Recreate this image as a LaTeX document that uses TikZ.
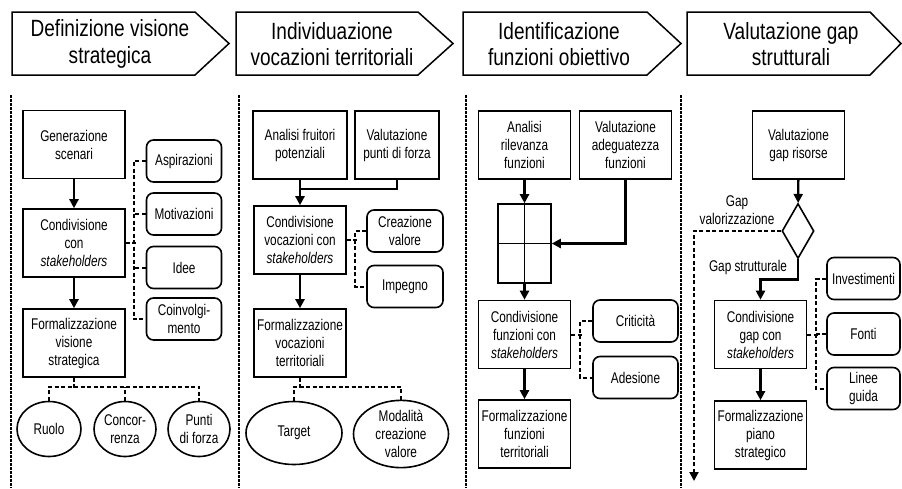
\documentclass[tikz,border=0pt]{standalone}
\usepackage{fontspec}
\setmainfont[FakeStretch=0.81]{Liberation Sans}
\newfontfamily\boxfam[FakeStretch=0.76]{Liberation Sans}
\usetikzlibrary{shapes.geometric,arrows.meta}
\newcommand{\boxfont}{\boxfam\fontsize{15.5}{18}\selectfont}
\newcommand{\phasefont}{\fontsize{23.5}{26.5}\selectfont}

\begin{document}
\begin{tikzpicture}[x=1pt, y=-1pt,
    box/.style={draw, line width=1.6pt, minimum width=92pt, minimum height=68pt, inner sep=1pt, align=center, font=\boxfont},
    rbox/.style={draw, rounded corners=7pt, line width=1.6pt, minimum width=75pt, minimum height=42pt, inner sep=1pt, align=center, font=\boxfont},
    oval/.style={draw, ellipse, line width=1.6pt, inner sep=0pt, align=center, font=\boxfont},
    lbl/.style={align=center, inner sep=0pt, font=\boxfont},
    flow/.style={line width=2.4pt, -{Triangle[length=9pt,width=9pt]}},
    link/.style={line width=2pt, dash pattern=on 4pt off 2.5pt},
    sep/.style={line width=2.4pt, dash pattern=on 2.5pt off 1.5pt},
    phase/.style={draw, line width=1.5pt}]
    \useasboundingbox (0,0) rectangle (902,488);

    % Phases
    \draw[phase] (12,12) -- (195,12) -- (229,43.5) -- (195,75) -- (12,75) -- cycle;
    \node[lbl, font=\phasefont] (ph1) at (110,44) {Definizione visione\\strategica};
    \draw[phase] (236,12) -- (418,12) -- (453,43.5) -- (418,75) -- (236,75) -- cycle;
    \node[lbl, font=\phasefont] (ph2) at (332,44) {Individuazione\\vocazioni territoriali};
    \draw[phase] (463,12) -- (647,12) -- (681,43.5) -- (647,75) -- (463,75) -- cycle;
    \node[lbl, font=\phasefont] (ph3) at (559,44) {Identificazione\\funzioni obiettivo};
    \draw[phase] (687,12) -- (870,12) -- (901,43.5) -- (870,75) -- (687,75) -- cycle;
    \node[lbl, font=\phasefont] (ph4) at (791,44) {Valutazione gap\\strutturali};

    % Separators
    \draw[sep] (11,95) -- (11,488);
    \draw[sep] (239,95) -- (239,488);
    \draw[sep] (466,95) -- (466,488);
    \draw[sep] (681,95) -- (681,488);

    % Column 1
    \node[box, minimum width=102pt] (gen1) at (74,144.5) {Generazione\\scenari};
    \node[box, minimum width=102pt] (cond1) at (74,243) {Condivisione\\con\\\textit{stakeholders}};
    \node[box, minimum width=102pt] (form1) at (74,343) {Formalizzazione\\visione\\strategica};
    \node[rbox] (asp) at (184,161) {Aspirazioni};
    \node[rbox] (mot) at (184,214) {Motivazioni};
    \node[rbox] (idee) at (184,267.5) {Idee};
    \node[rbox] (coin) at (184,319) {Coinvolgi-\\mento};
    \node[oval, minimum width=64pt, minimum height=55pt] (ruolo) at (49,429) {Ruolo};
    \node[oval, minimum width=62pt, minimum height=55pt] (conc) at (125,429) {Concor-\\renza};
    \node[oval, minimum width=62pt, minimum height=55pt] (punti) at (199,429) {Punti\\di forza};
    \draw[flow] (gen1) -- (cond1);
    \draw[flow] (cond1) -- (form1);
    \draw[link] (cond1.east) -- ++(10,0);
    \draw[link] (asp.west) -- ++(-12,0) |- (coin.west);
    \draw[link] (mot.west) -- ++(-12,0);
    \draw[link] (idee.west) -- ++(-12,0);
    \draw[link] (form1.south) -- ++(0,10);
    \draw[link] (ruolo.north) -- ++(0,-14) -| (punti.north);
    \draw[link] (conc.north) -- ++(0,-14);

    % Column 2
    \node[box, minimum width=94pt] (anal2) at (300,145) {Analisi fruitori\\potenziali};
    \node[box, minimum width=84pt] (val2) at (397,145) {Valutazione\\punti di forza};
    \node[box] (cond2) at (300,240) {Condivisione\\vocazioni con\\\textit{stakeholders}};
    \node[box] (form2) at (300,343) {Formalizzazione\\vocazioni\\territoriali};
    \node[rbox, minimum width=76pt] (creaz) at (405,231) {Creazione\\valore};
    \node[rbox, minimum width=76pt] (imp) at (405,286.5) {Impegno};
    \node[oval, minimum width=96pt, minimum height=63pt] (target) at (294,433) {Target};
    \node[oval, minimum width=95pt, minimum height=63pt] (modal) at (401,434) {Modalità\\creazione\\valore};
    \draw[line width=2.4pt] (val2.south) -- ++(0,9) -| (anal2.south);
    \draw[flow] (anal2) -- (cond2);
    \draw[flow] (cond2) -- (form2);
    \draw[link] (cond2.east) -- ++(11,0);
    \draw[link] (creaz.west) -- ++(-11,0) |- (imp.west);
    \draw[link] (form2.south) -- ++(0,10);
    \draw[link] (target.north) -- ++(0,-14) -| (modal.north);

    % Column 3
    \node[box] (anal3) at (524.5,145) {Analisi\\rilevanza\\funzioni};
    \node[box] (val3) at (625.5,145) {Valutazione\\adeguatezza\\funzioni};
    \node[draw, line width=1.6pt, minimum width=53pt, minimum height=79pt, inner sep=0pt] (mx) at (524.5,243.5) {};
    \draw[line width=1.6pt] (mx.north) -- (mx.south) (mx.west) -- (mx.east);
    \node[box] (cond3) at (524.5,334.5) {Condivisione\\funzioni con\\\textit{stakeholders}};
    \node[box] (form3) at (524.5,434) {Formalizzazione\\funzioni\\territoriali};
    \node[rbox, minimum width=85pt] (crit) at (635.5,321) {Criticità};
    \node[rbox, minimum width=85pt] (ades) at (635.5,377.5) {Adesione};
    \draw[flow] (anal3) -- (mx);
    \draw[flow] (val3.south) |- (mx.east);
    \draw[flow] (mx) -- (cond3);
    \draw[flow] (cond3) -- (form3);
    \draw[link] (cond3.east) -- ++(11,0);
    \draw[link] (crit.west) -- ++(-12,0) |- (ades.west);

    % Column 4
    \node[box] (gap4) at (798.5,145) {Valutazione\\gap risorse};
    \node[draw, diamond, line width=1.6pt, minimum width=32pt, minimum height=55pt, inner sep=0pt] (dia) at (798,231) {};
    \node[lbl] (gapval) at (737,210) {Gap\\valorizzazione};
    \node[lbl] (gapstr) at (748,267) {Gap strutturale};
    \coordinate (vend) at (694,481);
    \node[box] (cond4) at (760.5,334.5) {Condivisione\\gap con\\\textit{stakeholders}};
    \node[box] (form4) at (760.5,435) {Formalizzazione\\piano\\strategico};
    \node[rbox, minimum width=73pt] (inv) at (863.5,278.5) {Investimenti};
    \node[rbox, minimum width=73pt] (fonti) at (863.5,334) {Fonti};
    \node[rbox, minimum width=73pt] (linee) at (863.5,388.5) {Linee\\guida};
    \draw[flow] (gap4) -- (dia);
    \draw[flow] (dia.south) -- ++(0,20) -| (cond4.north);
    \draw[link, -{Triangle[length=9pt,width=9pt]}] (dia.west) -| (vend);
    \draw[flow] (cond4) -- (form4);
    \draw[link] (cond4.east) -- ++(11,0);
    \draw[link] (inv.west) -- ++(-10,0) |- (linee.west);
    \draw[link] (fonti.west) -- ++(-10,0);
\end{tikzpicture}
\end{document}
